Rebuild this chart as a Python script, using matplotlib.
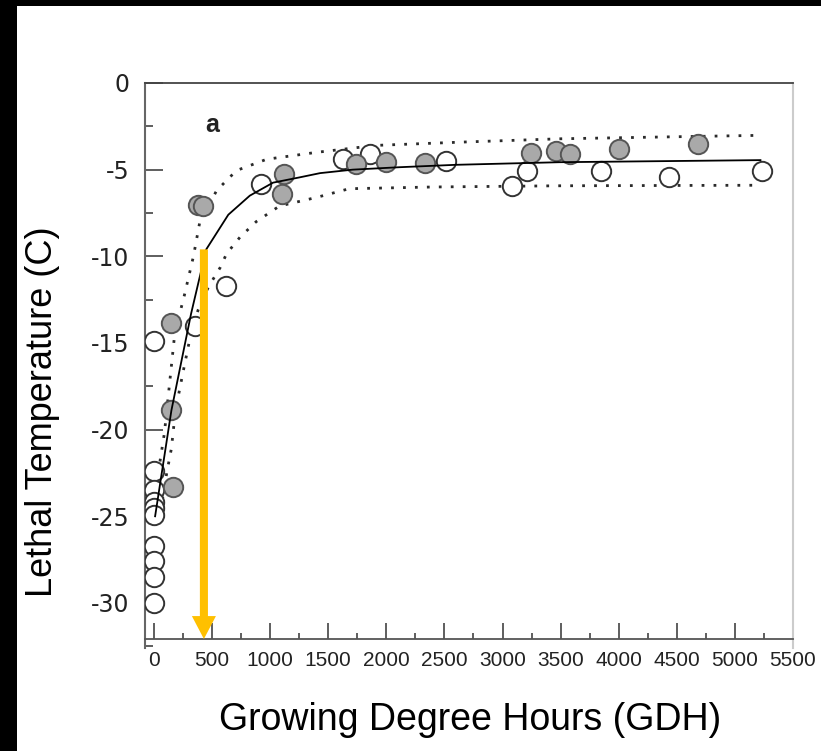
import matplotlib
matplotlib.use("Agg")
import matplotlib.pyplot as plt
from matplotlib.patches import Rectangle
from matplotlib.ticker import MultipleLocator

plt.rcParams["axes.unicode_minus"] = False

# open (white) circles
open_x = [0, 0, 0, 0, 0, 0, 0, 0, 0, 0, 350, 620, 920, 1630, 1860, 2510,
          3080, 3210, 3850, 4430, 5230]
open_y = [-14.9, -22.4, -23.5, -24.2, -24.5, -24.9, -26.7, -27.6, -28.5, -30.0,
          -14.0, -11.7, -5.85, -4.4, -4.1, -4.5, -5.95, -5.05, -5.05, -5.4, -5.1]

# filled (grey) circles
fill_x = [150, 150, 160, 380, 420, 1100, 1120, 1735, 1995, 2330, 3245, 3460,
          3580, 4000, 4680]
fill_y = [-13.85, -18.85, -23.3, -7.05, -7.1, -6.4, -5.25, -4.67, -4.57, -4.63,
          -4.03, -3.93, -4.1, -3.8, -3.5]

# fitted curve and confidence band
fit_x = [10, 150, 320, 450, 640, 825, 1025, 1250, 1430, 1710, 2110, 2600, 3490,
         4500, 5220]
fit_y = [-25.0, -18.9, -13.3, -9.6, -7.6, -6.5, -5.75, -5.45, -5.2, -5.0, -4.86,
         -4.72, -4.57, -4.5, -4.45]

upper_x = [20, 90, 180, 260, 340, 395, 540, 710, 970, 1400, 1910, 2690, 3490,
           4500, 5220]
upper_y = [-23.2, -20.2, -14.4, -12.3, -10.0, -8.0, -6.2, -5.05, -4.4, -4.0,
           -3.6, -3.4, -3.22, -3.1, -3.02]

lower_x = [40, 110, 150, 185, 250, 320, 380, 470, 570, 625, 740, 880, 1080,
           1400, 1680, 2400, 3490, 5200]
lower_y = [-25.4, -22.5, -21.1, -18.9, -16.7, -14.4, -13.1, -11.75, -10.65,
           -9.85, -8.9, -8.0, -7.1, -6.6, -6.1, -6.0, -5.93, -5.9]

x_ticks = list(range(0, 5501, 500))
y_ticks = list(range(-30, 1, 5))

arrow_x = 430
arrow_top = -9.6
x_axis_y = -32.08

fig = plt.figure(figsize=(8.21, 7.51), dpi=100, facecolor="black")
W, H = 821, 751
fig.add_artist(Rectangle((17 / W, 0), 1 - 17 / W, 1 - 6 / H,
                         transform=fig.transFigure, facecolor="white",
                         edgecolor="none", zorder=-10))

ax = fig.add_axes([145 / W, 1 - 648 / H, (793 - 145) / W, (648 - 83) / H])
ax.set_facecolor("white")
ax.set_xlim(-77, 5500)
ax.set_ylim(-32.6, 0)

band = dict(color="#2a2a2a", lw=2.0, linestyle=(0, (1, 3.3)))
ax.plot(upper_x, upper_y, **band, zorder=2)
ax.plot(lower_x, lower_y, **band, zorder=2)
ax.plot(fit_x, fit_y, color="black", lw=1.3, zorder=4)

ax.scatter(open_x, open_y, s=195, facecolor="white", edgecolor="#333333",
           linewidths=1.4, zorder=3)
ax.scatter(fill_x, fill_y, s=195, facecolor="#a9a9a9", edgecolor="#555555",
           linewidths=1.4, zorder=3)

ax.annotate("", xy=(arrow_x, x_axis_y), xytext=(arrow_x, arrow_top),
            arrowprops=dict(width=5.8, headwidth=17.3, headlength=16.5,
                            shrink=0, color="#ffc000", lw=0),
            zorder=6)

ax.text(500, -2.45, "a", fontsize=18, fontweight="bold", family="Liberation Sans",
        ha="center", va="center", color="#222222")

# spines
ax.spines["bottom"].set_position(("data", x_axis_y))
ax.spines["bottom"].set_color("#555555")
ax.spines["bottom"].set_linewidth(1.3)
ax.spines["left"].set_color("#666666")
ax.spines["left"].set_linewidth(1.5)
ax.spines["top"].set_color("#444444")
ax.spines["top"].set_linewidth(1.3)
ax.spines["right"].set_color("#cccccc")
ax.spines["right"].set_linewidth(1.5)

ax.set_xticks(x_ticks)
ax.set_yticks(y_ticks)
ax.xaxis.set_minor_locator(MultipleLocator(250))
ax.yaxis.set_minor_locator(MultipleLocator(2.5))
ax.tick_params(top=False, right=False, which="both", direction="in",
               color="#333333", width=1.1, labelcolor="#222222")
ax.tick_params(axis="x", which="major", length=11.5, pad=9, labelsize=15)
ax.tick_params(axis="x", which="minor", length=4.3)
ax.tick_params(axis="y", which="major", length=13, pad=11, labelsize=17)
ax.tick_params(axis="y", which="minor", length=6)
for lab in ax.get_xticklabels():
    lab.set_family("Liberation Sans")

fig.text(42 / W, 1 - 412 / H, "Lethal Temperature (C)", rotation=90,
         fontsize=26, family="Liberation Sans", ha="center", va="center")
fig.text(470 / W, 1 - 730 / H, "Growing Degree Hours (GDH)", fontsize=27,
         family="Liberation Sans", ha="center", va="baseline")

fig.savefig("out.png", dpi=100, facecolor="black")
